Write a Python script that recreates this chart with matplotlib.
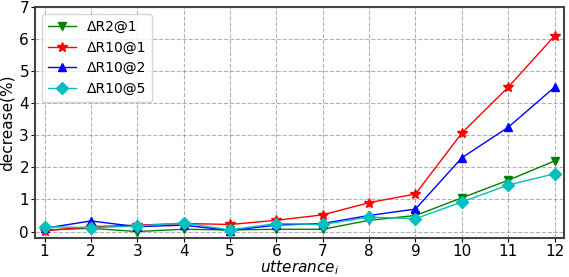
import numpy as np
import matplotlib
matplotlib.use('Agg')
import matplotlib.pyplot as plt

x = list(range(1, 13))
r2_1 = [0.05, 0.10, 0.00, 0.07, 0.05, 0.07, 0.07, 0.35, 0.50, 1.05, 1.60, 2.20]
r10_1 = [0.02, 0.15, 0.20, 0.25, 0.22, 0.35, 0.52, 0.90, 1.17, 3.07, 4.50, 6.10]
r10_2 = [0.10, 0.33, 0.15, 0.20, 0.03, 0.20, 0.25, 0.50, 0.70, 2.30, 3.25, 4.50]
r10_5 = [0.15, 0.12, 0.17, 0.27, 0.05, 0.25, 0.22, 0.45, 0.40, 0.92, 1.45, 1.80]

fig, ax = plt.subplots(figsize=(5.69, 2.77), dpi=100)
ax.plot(x, r2_1, 'g-v', label='ΔR2@1', ms=6, lw=1)
ax.plot(x, r10_1, 'r-*', label='ΔR10@1', ms=7, lw=1)
ax.plot(x, r10_2, 'b-^', label='ΔR10@2', ms=6, lw=1)
ax.plot(x, r10_5, 'c-D', label='ΔR10@5', ms=6, lw=1)

ax.set_xlim(0.8, 12.2)
ax.set_ylim(-0.2, 7)
ax.set_xticks(x)
ax.set_yticks(range(0, 8))
ax.tick_params(labelsize=11, length=3, pad=1.5)
ax.grid(True, linestyle='--', color='gray', alpha=0.6)
for s in ax.spines.values():
    s.set_color('#444444')
    s.set_linewidth(1.5)
ax.set_xlabel('$utterance_i$', fontsize=11, labelpad=-1)
ax.set_ylabel('decrease(%)', fontsize=11, labelpad=3)
ax.legend(loc='upper left', fontsize=10)
fig.subplots_adjust(left=0.062, right=0.991, top=0.975, bottom=0.141)
fig.savefig('out.png')
